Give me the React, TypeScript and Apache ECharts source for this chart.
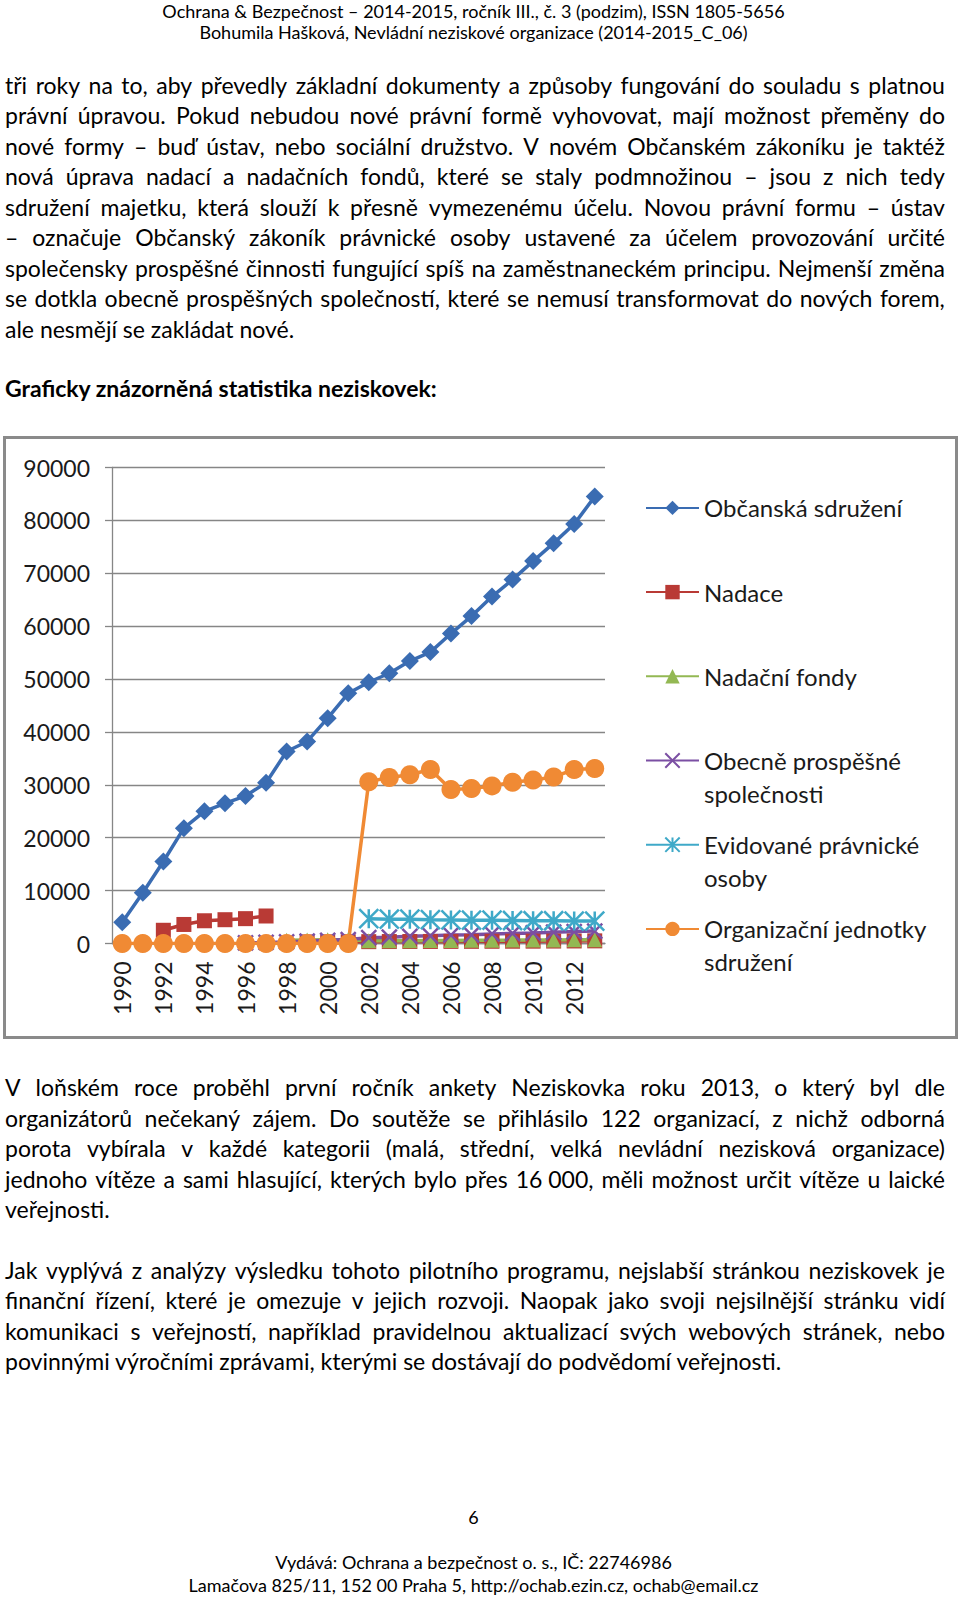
import React, { useEffect, useRef } from "react";
import * as echarts from "echarts";

// ---------- DATA ----------
const years = [
  "1990", "1991", "1992", "1993", "1994", "1995", "1996", "1997", "1998", "1999", "2000", "2001",
  "2002", "2003", "2004", "2005", "2006", "2007", "2008", "2009", "2010", "2011", "2012", "2013",
];
const obcanskaSdruzeni = [
  4000, 9600, 15500, 21800, 25000, 26500, 27900, 30400, 36300, 38200, 42600, 47300,
  49400, 51100, 53400, 55100, 58600, 61900, 65600, 68800, 72300, 75700, 79300, 84500,
];
const nadace = [
  null, null, 2500, 3600, 4300, 4500, 4700, 5200, null, 300, 310, 330,
  350, 370, 380, 390, 400, 410, 420, 430, 440, 460, 480, 500,
];
const nadacniFondy = [
  null, null, null, null, null, null, null, null, 600, 650, 700, 720,
  500, 520, 540, 560, 580, 600, 620, 640, 660, 680, 700, 720,
];
const obecneProspesne = [
  null, null, null, null, null, null, 100, 200, 300, 450, 600, 750,
  1100, 1200, 1350, 1450, 1600, 1650, 1800, 1900, 2000, 2150, 2250, 2350,
];
const evidovanePravnicke = [
  null, null, null, null, null, null, null, null, null, null, null, null,
  4700, 4600, 4600, 4500, 4450, 4400, 4400, 4350, 4300, 4300, 4250, 4250,
];
const organizacniJednotky = [
  0, 0, 0, 0, 0, 0, 0, 0, 0, 0, 0, 0,
  30600, 31400, 31900, 32900, 29100, 29300, 29800, 30500, 30900, 31500, 32900, 33100,
];
const yMin = 0;
const yMax = 90000;
const yInterval = 10000;

const seriesNames = [
  "Občanská sdružení",
  "Nadace",
  "Nadační fondy",
  "Obecně prospěšné společnosti",
  "Evidované právnické osoby",
  "Organizační jednotky sdružení",
];
// legend text: first line sits beside the icon, optional second line below
const legendLines: Record<string, string[]> = {
  "Občanská sdružení": ["Občanská sdružení"],
  "Nadace": ["Nadace"],
  "Nadační fondy": ["Nadační fondy"],
  "Obecně prospěšné společnosti": ["Obecně prospěšné", "společnosti"],
  "Evidované právnické osoby": ["Evidované právnické", "osoby"],
  "Organizační jednotky sdružení": ["Organizační jednotky", "sdružení"],
};

// ---------- PAGE TEXT ----------
const headerLines = [
  "Ochrana & Bezpečnost – 2014-2015, ročník III., č. 3 (podzim), ISSN 1805-5656",
  "Bohumila Hašková, Nevládní neziskové organizace (2014-2015_C_06)",
];
const paragraph1 = [
  "tři roky na to, aby převedly základní dokumenty a způsoby fungování do souladu s platnou",
  "právní úpravou. Pokud nebudou nové právní formě vyhovovat, mají možnost přeměny do",
  "nové formy – buď ústav, nebo sociální družstvo. V novém Občanském zákoníku je taktéž",
  "nová úprava nadací a nadačních fondů, které se staly podmnožinou – jsou z nich tedy",
  "sdružení majetku, která slouží k přesně vymezenému účelu. Novou právní formu – ústav",
  "– označuje Občanský zákoník právnické osoby ustavené za účelem provozování určité",
  "společensky prospěšné činnosti fungující spíš na zaměstnaneckém principu. Nejmenší změna",
  "se dotkla obecně prospěšných společností, které se nemusí transformovat do nových forem,",
  "ale nesmějí se zakládat nové.",
];
const heading = "Graficky znázorněná statistika neziskovek:";
const paragraph2 = [
  "V loňském roce proběhl první ročník ankety Neziskovka roku 2013, o který byl dle",
  "organizátorů nečekaný zájem. Do soutěže se přihlásilo 122 organizací, z nichž odborná",
  "porota vybírala v každé kategorii (malá, střední, velká nevládní nezisková organizace)",
  "jednoho vítěze a sami hlasující, kterých bylo přes 16\u00a0000, měli možnost určit vítěze u laické",
  "veřejnosti.",
];
const paragraph3 = [
  "Jak vyplývá z analýzy výsledku tohoto pilotního programu, nejslabší stránkou neziskovek je",
  "finanční řízení, které je omezuje v jejich rozvoji. Naopak jako svoji nejsilnější stránku vidí",
  "komunikaci s veřejností, například pravidelnou aktualizací svých webových stránek, nebo",
  "povinnými výročními zprávami, kterými se dostávají do podvědomí veřejnosti.",
];
const pageNumber = "6";
const footerLines = [
  "Vydává: Ochrana a bezpečnost o. s., IČ: 22746986",
  "Lamačova 825/11, 152 00 Praha 5, http://ochab.ezin.cz, ochab@email.cz",
];

const FONT = "Lato, 'Noto Sans', sans-serif";
const BODY_SIZE = 23;
const LINE_STEP = 30.54;

function TextLine(props: {
  text: string;
  center: number;
  justify?: boolean;
  bold?: boolean;
  size?: number;
}) {
  const size = props.size ?? BODY_SIZE;
  const h = 30;
  const style: React.CSSProperties = {
    position: "absolute",
    left: 5,
    width: 940,
    top: props.center - h / 2 - 2,
    height: h,
    lineHeight: h + "px",
    fontSize: size,
    fontFamily: FONT,
    fontWeight: props.bold ? 700 : 400,
    color: "#000",
    whiteSpace: "nowrap",
  };
  if (props.justify) {
    const words = props.text.split(" ");
    return (
      <div style={{ ...style, display: "flex", justifyContent: "space-between" }}>
        {words.map((w, i) => (
          <span key={i}>{w}</span>
        ))}
      </div>
    );
  }
  return <div style={style}>{props.text}</div>;
}

function CenterLine(props: { text: string; center: number; size: number }) {
  const h = 22;
  return (
    <div
      style={{
        position: "absolute",
        left: 0,
        width: 947,
        top: Math.max(0, props.center - h / 2),
        height: h,
        lineHeight: h + "px",
        textAlign: "center",
        fontSize: props.size,
        fontFamily: FONT,
        color: "#000",
        whiteSpace: "nowrap",
      }}
    >
      {props.text}
    </div>
  );
}

function Paragraph(props: { lines: string[]; firstCenter: number }) {
  return (
    <>
      {props.lines.map((t, i) => (
        <TextLine
          key={i}
          text={t}
          center={props.firstCenter + i * LINE_STEP}
          justify={i < props.lines.length - 1}
        />
      ))}
    </>
  );
}

const BLUE = "#3a6cb2";
const RED = "#b93a35";
const GREEN = "#93b853";
const PURPLE = "#7b4fa3";
const CYAN = "#3fa9c8";
const ORANGE = "#f08a34";

function Chart() {
  const ref = useRef<HTMLDivElement>(null);
  useEffect(() => {
    if (!ref.current) return;
    const chart = echarts.init(ref.current, undefined, { renderer: "svg" });
    const lineW = 3.5;
    const mk = (
      name: string,
      data: (number | null)[],
      color: string,
      symbol: string,
      symbolSize: number,
      border?: number
    ) => ({
      name,
      type: "line",
      data,
      symbol,
      symbolSize,
      showSymbol: true,
      showAllSymbol: true,
      connectNulls: false,
      lineStyle: { width: lineW, color },
      itemStyle: border
        ? { color, borderColor: color, borderWidth: border }
        : { color },
      emphasis: { disabled: true },
    });
    const option: any = {
      animation: false,
      textStyle: { fontFamily: FONT },
      grid: { left: 112, right: 355, top: 37.5, bottom: 98.5 },
      xAxis: {
        type: "category",
        data: years,
        boundaryGap: true,
        axisLine: { show: true, lineStyle: { color: "#868686", width: 1.3 } },
        axisTick: { show: false },
        axisLabel: {
          interval: 1,
          rotate: 90,
          fontSize: 23,
          color: "#1a1a1a",
          margin: 18,
          fontFamily: FONT,
        },
      },
      yAxis: {
        type: "value",
        min: yMin,
        max: yMax,
        interval: yInterval,
        axisLine: { show: true, lineStyle: { color: "#868686", width: 1.3 } },
        axisTick: { show: true, length: 7, lineStyle: { color: "#868686", width: 1.3 } },
        axisLabel: {
          fontSize: 23,
          color: "#1a1a1a",
          margin: 22,
          fontFamily: FONT,
          formatter: (v: number) => String(v),
        },
        splitLine: { show: true, lineStyle: { color: "#868686", width: 1.3 } },
      },
      legend: {
        orient: "vertical",
        left: 645,
        top: 29,
        padding: 0,
        itemGap: -13.6,
        itemWidth: 53,
        itemHeight: 18,
        selectedMode: false,
        textStyle: { fontSize: 24, lineHeight: 32.6, color: "#1a1a1a", fontFamily: FONT },
        formatter: (n: string) => {
          const l = legendLines[n];
          return "\n" + l[0] + "\n" + (l[1] ?? "");
        },
        data: seriesNames,
      },
      graphic: [
        {
          type: "rect",
          shape: { x: 4.5, y: 7.5, width: 952, height: 600 },
          style: { fill: "none", stroke: "#8a8a8a", lineWidth: 3 },
          silent: true,
        },
      ],
      series: [
        mk(seriesNames[0], obcanskaSdruzeni, BLUE, "diamond", 18),
        mk(seriesNames[1], nadace, RED, "rect", 15),
        mk(seriesNames[2], nadacniFondy, GREEN, "triangle", 15),
        mk(seriesNames[3], obecneProspesne, PURPLE, "path://M0,0L10,10M10,0L0,10", 15, 2.5),
        mk(seriesNames[4], evidovanePravnicke, CYAN, "path://M5,0L5,10M0,0L10,10M10,0L0,10", 19, 2.5),
        mk(seriesNames[5], organizacniJednotky, ORANGE, "circle", 19),
      ],
    };
    chart.setOption(option);
    return () => chart.dispose();
  }, []);
  return (
    <div
      ref={ref}
      style={{ position: "absolute", left: 0, top: 430, width: 960, height: 612 }}
    />
  );
}

export default function App() {
  return (
    <div
      style={{
        position: "absolute",
        left: 0,
        top: 0,
        width: 960,
        height: 1597,
        background: "#fff",
        overflow: "hidden",
      }}
    >
      <CenterLine text={headerLines[0]} center={10} size={18} />
      <CenterLine text={headerLines[1]} center={32} size={18} />
      <Paragraph lines={paragraph1} firstCenter={86.5} />
      <TextLine text={heading} center={389.9} bold size={23} />
      <Chart />
      <Paragraph lines={paragraph2} firstCenter={1089.3} />
      <Paragraph lines={paragraph3} firstCenter={1271.5} />
      <CenterLine text={pageNumber} center={1516.8} size={18} />
      <CenterLine text={footerLines[0]} center={1561.6} size={18} />
      <CenterLine text={footerLines[1]} center={1585} size={18} />
    </div>
  );
}
